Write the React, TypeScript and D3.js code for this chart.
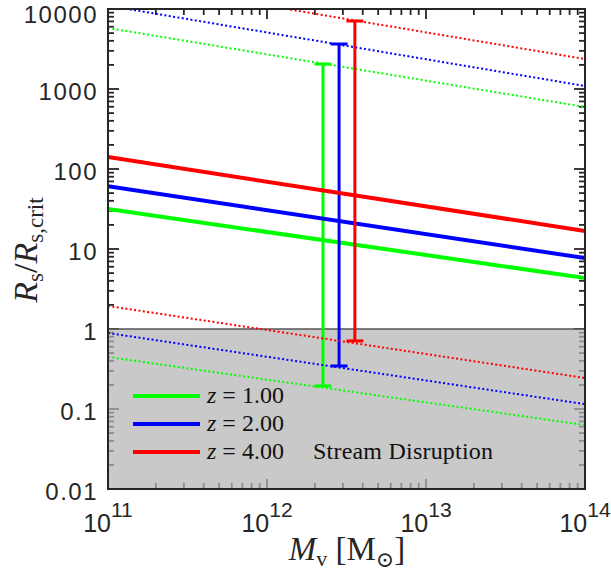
import React from 'react';
import * as d3 from 'd3';

// halo mass range (M_sun)
const massRange = [1e11, 1e14];
const yRange = [0.01, 10000];

const redshifts = ['1.00', '2.00', '4.00'];
const colors = ['#00ff00', '#0000ff', '#ff0000'];

// solid lines: value at 1e11 and at 1e14
const solidLeft = [31.6, 61, 141];
const solidRight = [4.34, 7.7, 16.8];

// upper dotted bounds
const upperLeft = [5790, 11000, 23700];
const upperRight = [596, 1090, 2370];

// lower dotted bounds
const lowerLeft = [0.447, 0.89, 1.94];
const lowerRight = [0.063, 0.115, 0.244];

// error bars at a characteristic mass
const barMass = [2.25e12, 2.84e12, 3.57e12];
const barLow = [0.194, 0.345, 0.71];
const barHigh = [2050, 3650, 7080];

const yTickLabels = ['0.01', '0.1', '1', '10', '100', '1000', '10000'];
const xTickExps = ['11', '12', '13', '14'];

const W = 611;
const H = 573;
const left = 108, right = 585, top = 9, bottom = 489;
const axisColor = '#262626';

export default function App() {
  const x = d3.scaleLog().domain(massRange).range([left, right]);
  const y = d3.scaleLog().domain(yRange).range([bottom, top]);

  const line = d3.line<[number, number]>().x(d => x(d[0])).y(d => y(d[1]));

  const majorX = xTickExps.map(e => Math.pow(10, +e));
  const majorY = yTickLabels.map(Number);
  const minorX: number[] = [];
  for (let i = 0; i < majorX.length - 1; i++)
    for (let k = 2; k <= 9; k++) minorX.push(majorX[i] * k);
  const minorY: number[] = [];
  for (let i = 0; i < majorY.length - 1; i++)
    for (let k = 2; k <= 9; k++) minorY.push(majorY[i] * k);

  const ticks: JSX.Element[] = [];
  const tw = 1.8;
  majorX.forEach((v, i) => {
    ticks.push(<line key={'xb' + i} x1={x(v)} x2={x(v)} y1={bottom} y2={bottom - 10} />);
    ticks.push(<line key={'xt' + i} x1={x(v)} x2={x(v)} y1={top} y2={top + 10} />);
  });
  minorX.forEach((v, i) => {
    ticks.push(<line key={'mxb' + i} x1={x(v)} x2={x(v)} y1={bottom} y2={bottom - 6} />);
    ticks.push(<line key={'mxt' + i} x1={x(v)} x2={x(v)} y1={top} y2={top + 6} />);
  });
  majorY.forEach((v, i) => {
    ticks.push(<line key={'yl' + i} y1={y(v)} y2={y(v)} x1={left} x2={left + 11} />);
    ticks.push(<line key={'yr' + i} y1={y(v)} y2={y(v)} x1={right} x2={right - 11} />);
  });
  minorY.forEach((v, i) => {
    ticks.push(<line key={'myl' + i} y1={y(v)} y2={y(v)} x1={left} x2={left + 6} />);
    ticks.push(<line key={'myr' + i} y1={y(v)} y2={y(v)} x1={right} x2={right - 6} />);
  });

  const capHalf = 8.5;

  return (
    <svg width={W} height={H} style={{ position: 'absolute', left: 0, top: 0 }}>
      <defs>
        <clipPath id="plot">
          <rect x={left} y={top} width={right - left} height={bottom - top} />
        </clipPath>
      </defs>
      <rect x={0} y={0} width={W} height={H} fill="#fff" />
      <g stroke={axisColor} strokeWidth={tw}>{ticks}</g>
      {/* disruption region */}
      <rect x={left} y={y(1)} width={right - left} height={bottom - y(1)} fill="#b4b4b4" fillOpacity={0.72} />
      <line x1={left} x2={right} y1={y(1)} y2={y(1)} stroke="#555" strokeWidth={1.5} />

      <g clipPath="url(#plot)" fill="none">
        {colors.map((c, i) => (
          <g key={i} stroke={c}>
            <path d={line([[massRange[0], upperLeft[i]], [massRange[1], upperRight[i]]])!} strokeWidth={2} strokeDasharray="2 2.4" />
            <path d={line([[massRange[0], lowerLeft[i]], [massRange[1], lowerRight[i]]])!} strokeWidth={2} strokeDasharray="2 2.4" />
            <path d={line([[massRange[0], solidLeft[i]], [massRange[1], solidRight[i]]])!} strokeWidth={4} />
            <line x1={x(barMass[i])} x2={x(barMass[i])} y1={y(barLow[i])} y2={y(barHigh[i])} strokeWidth={3} />
            <line x1={x(barMass[i]) - capHalf} x2={x(barMass[i]) + capHalf} y1={y(barLow[i])} y2={y(barLow[i])} strokeWidth={3} />
            <line x1={x(barMass[i]) - capHalf} x2={x(barMass[i]) + capHalf} y1={y(barHigh[i])} y2={y(barHigh[i])} strokeWidth={3} />
          </g>
        ))}
      </g>

      <rect x={left} y={top} width={right - left} height={bottom - top} fill="none" stroke={axisColor} strokeWidth={2} />

      {/* y tick labels */}
      <g fontFamily="'Liberation Sans', Arial, sans-serif" fontSize={24} fill={axisColor} textAnchor="end">
        {yTickLabels.map((t, i) => (
          <text key={t} x={98} y={Math.max(23, y(majorY[i]) + 11)} letterSpacing={1.5}>{t}</text>
        ))}
      </g>
      {/* x tick labels */}
      <g fontFamily="'Liberation Sans', Arial, sans-serif" fontSize={25} fill={axisColor} textAnchor="middle">
        {xTickExps.map((e, i) => (
          <text key={e} x={x(majorX[i])} y={532}>
            10<tspan fontSize={21} dy={-15}>{e}</tspan>
          </text>
        ))}
      </g>

      {/* axis titles */}
      <text x={347} y={560} textAnchor="middle" fontFamily="'Liberation Serif', 'DejaVu Serif', serif" fontSize={33} fill={axisColor}>
        <tspan fontStyle="italic">M</tspan>
        <tspan fontSize={22} dy={6}>v</tspan>
        <tspan dy={-6}> [M</tspan>
        <tspan fontSize={22} dy={7}>⊙</tspan>
        <tspan dy={-7}>]</tspan>
      </text>
      <text transform="translate(37,250) rotate(-90)" textAnchor="middle" fontFamily="'Liberation Serif', 'DejaVu Serif', serif" fontSize={34} fill={axisColor}>
        <tspan fontStyle="italic">R</tspan>
        <tspan fontSize={23} dy={6}>s</tspan>
        <tspan dy={-6}>/</tspan>
        <tspan fontStyle="italic">R</tspan>
        <tspan fontSize={23} dy={6}>s,crit</tspan>
      </text>

      {/* legend */}
      <g fontFamily="'Liberation Serif', 'DejaVu Serif', serif" fontSize={24} fill="#111">
        {redshifts.map((z, i) => (
          <g key={z}>
            <line x1={133} x2={200} y1={396 + i * 28} y2={396 + i * 28} stroke={colors[i]} strokeWidth={4} />
            <text x={207} y={403 + i * 28}>
              <tspan fontStyle="italic">z</tspan>
              <tspan> = {z}</tspan>
            </text>
          </g>
        ))}
        <text x={313} y={459} textLength={180}>Stream Disruption</text>
      </g>
    </svg>
  );
}
